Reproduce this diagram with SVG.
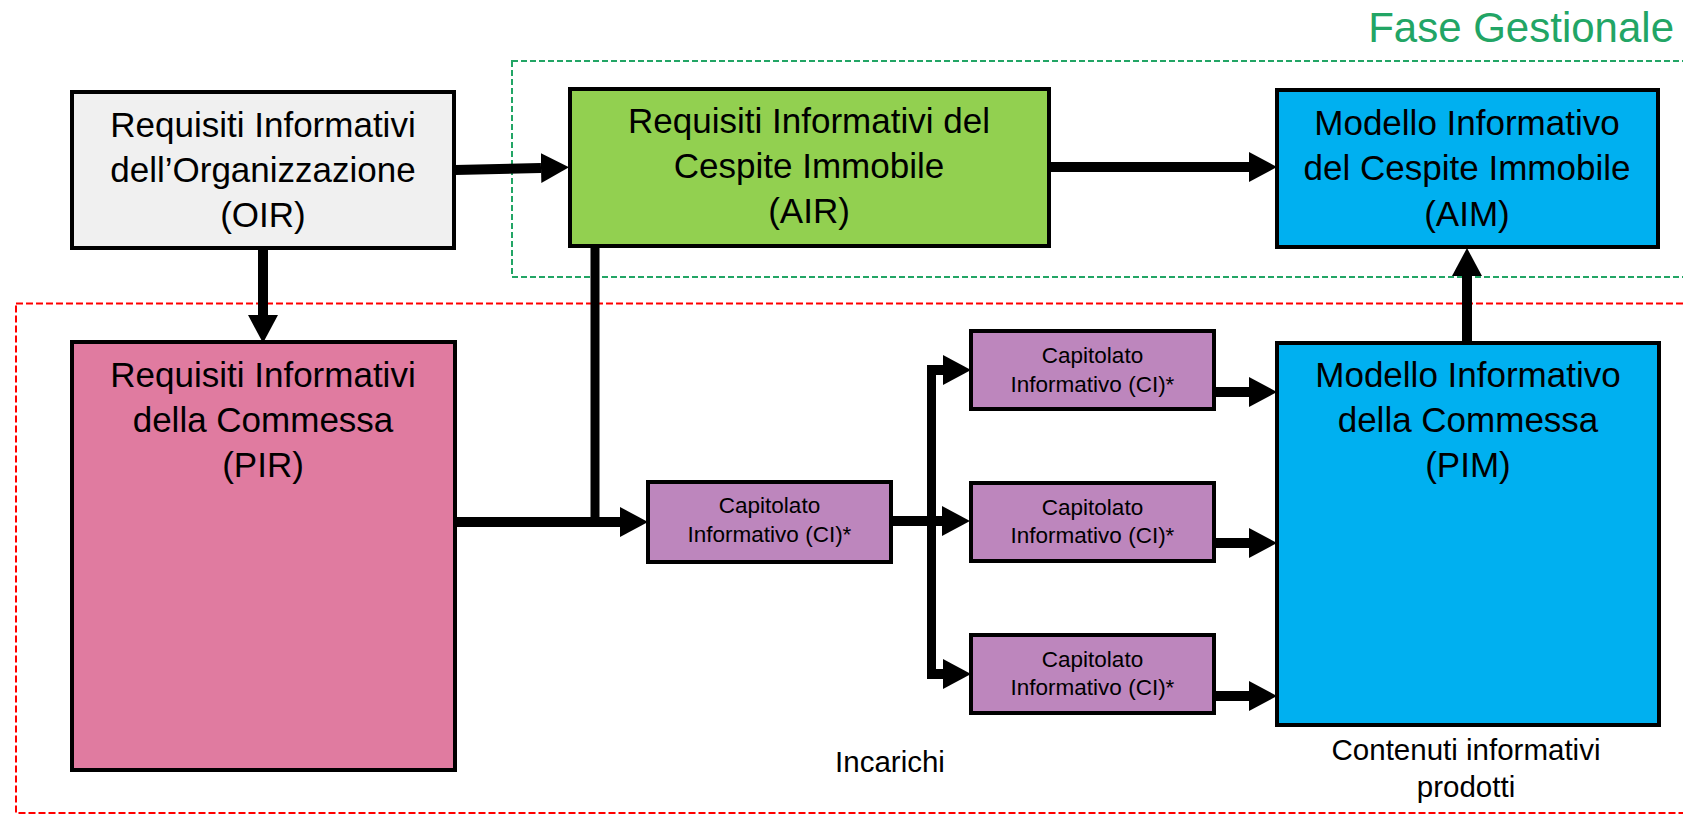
<svg xmlns="http://www.w3.org/2000/svg" width="1683" height="814" viewBox="0 0 1683 814">
<style>
text{font-family:"Liberation Sans",Arial,sans-serif;fill:#000;text-anchor:middle}
.big{font-size:35px}
.ci{font-size:22.5px}
.lbl{font-size:29.5px}
.box{stroke:#000;stroke-width:4}
.conn{stroke:#000;fill:none;stroke-width:10}
</style>
<defs>
<marker id="ah" viewBox="0 0 28 30" refX="0" refY="15" markerWidth="28" markerHeight="30" markerUnits="userSpaceOnUse" orient="auto">
<path d="M0,0 L28,15 L0,30 Z" fill="#000"/>
</marker>
</defs>
<rect x="0" y="0" width="1683" height="814" fill="#fff"/>
<g id="fase-gestionale">
<rect x="512" y="61" width="1200" height="216" fill="none" stroke="#22a565" stroke-width="2" stroke-dasharray="6 3"/>
<text x="1674" y="42" style="font-size:42px;fill:#22a565;text-anchor:end">Fase Gestionale</text>
</g>
<g id="fase-realizzativa">
<rect x="16" y="303.5" width="1700" height="509.5" fill="none" stroke="#ff0000" stroke-width="2" stroke-dasharray="7 3"/>
</g>
<g id="connectors">
<line class="conn" x1="455" y1="170" x2="541" y2="168" marker-end="url(#ah)"/>
<line class="conn" x1="1049" y1="167" x2="1249" y2="167" marker-end="url(#ah)"/>
<line class="conn" x1="263" y1="248" x2="263" y2="315" marker-end="url(#ah)"/>
<line class="conn" x1="595" y1="246" x2="595" y2="522" style="stroke-width:9"/>
<line class="conn" x1="455" y1="522" x2="620" y2="522" marker-end="url(#ah)"/>
<line class="conn" x1="891" y1="521" x2="942" y2="521" marker-end="url(#ah)"/>
<line class="conn" x1="931.5" y1="365.5" x2="931.5" y2="678.5" style="stroke-width:9"/>
<line class="conn" x1="927" y1="370" x2="943" y2="370" marker-end="url(#ah)"/>
<line class="conn" x1="927" y1="674" x2="943" y2="674" marker-end="url(#ah)"/>
<line class="conn" x1="1214" y1="392" x2="1249" y2="392" marker-end="url(#ah)"/>
<line class="conn" x1="1214" y1="543" x2="1249" y2="543" marker-end="url(#ah)"/>
<line class="conn" x1="1214" y1="696" x2="1249" y2="696" marker-end="url(#ah)"/>
<line class="conn" x1="1467" y1="343" x2="1467" y2="276" marker-end="url(#ah)"/>
</g>
<g id="oir">
<rect class="box" x="72" y="92" width="382" height="156" fill="#f0f0f0"/>
<text class="big" x="263" y="137">Requisiti Informativi</text>
<text class="big" x="263" y="182">dell’Organizzazione</text>
<text class="big" x="263" y="227">(OIR)</text>
</g>
<g id="air">
<rect class="box" x="570" y="89" width="479" height="157" fill="#92d050"/>
<text class="big" x="809" y="133">Requisiti Informativi del</text>
<text class="big" x="809" y="178">Cespite Immobile</text>
<text class="big" x="809" y="223">(AIR)</text>
</g>
<g id="aim">
<rect class="box" x="1277" y="90" width="381" height="157" fill="#00b0f0"/>
<text class="big" x="1467" y="135">Modello Informativo</text>
<text class="big" x="1467" y="180">del Cespite Immobile</text>
<text class="big" x="1467" y="226">(AIM)</text>
</g>
<g id="pir">
<rect class="box" x="72" y="342" width="383" height="428" fill="#e07ba0"/>
<text class="big" x="263" y="387">Requisiti Informativi</text>
<text class="big" x="263" y="432">della Commessa</text>
<text class="big" x="263" y="477">(PIR)</text>
</g>
<g id="pim">
<rect class="box" x="1277" y="343" width="382" height="382" fill="#00b0f0"/>
<text class="big" x="1468" y="387">Modello Informativo</text>
<text class="big" x="1468" y="432">della Commessa</text>
<text class="big" x="1468" y="477">(PIM)</text>
</g>
<g id="ci-main">
<rect class="box" x="648" y="482" width="243" height="80" fill="#bd86bd"/>
<text class="ci" x="769.5" y="513">Capitolato</text>
<text class="ci" x="769.5" y="542">Informativo (CI)*</text>
</g>
<g id="ci-1">
<rect class="box" x="971" y="331" width="243" height="78" fill="#bd86bd"/>
<text class="ci" x="1092.5" y="363">Capitolato</text>
<text class="ci" x="1092.5" y="392">Informativo (CI)*</text>
</g>
<g id="ci-2">
<rect class="box" x="971" y="483" width="243" height="78" fill="#bd86bd"/>
<text class="ci" x="1092.5" y="515">Capitolato</text>
<text class="ci" x="1092.5" y="543">Informativo (CI)*</text>
</g>
<g id="ci-3">
<rect class="box" x="971" y="635" width="243" height="78" fill="#bd86bd"/>
<text class="ci" x="1092.5" y="667">Capitolato</text>
<text class="ci" x="1092.5" y="695">Informativo (CI)*</text>
</g>
<g id="incarichi">
<text class="lbl" x="890" y="772">Incarichi</text>
</g>
<g id="contenuti">
<text class="lbl" x="1466" y="760">Contenuti informativi</text>
<text class="lbl" x="1466" y="797">prodotti</text>
</g>
</svg>
